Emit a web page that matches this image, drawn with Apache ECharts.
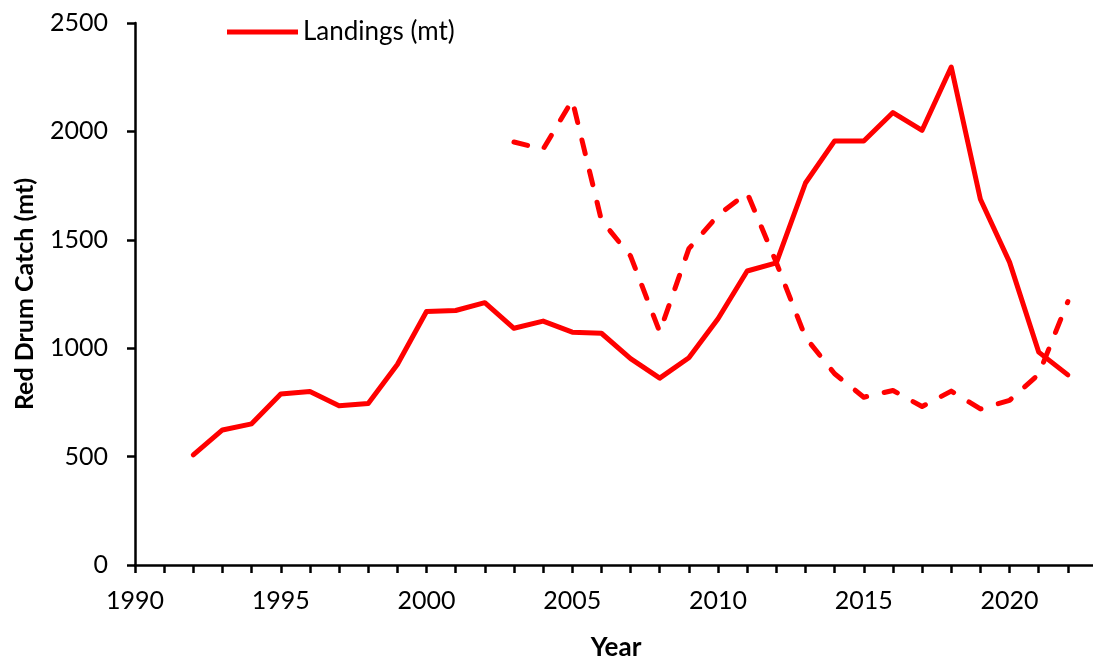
<!DOCTYPE html>
<html><head><meta charset="utf-8">
<script src="https://cdn.jsdelivr.net/npm/echarts@6/dist/echarts.min.js"></script>
<style>html,body{margin:0;padding:0;background:#fff}#c{width:1093px;height:657px}</style>
</head><body><div id="c"></div>
<script>
const landingYears = [1992,1993,1994,1995,1996,1997,1998,1999,2000,2001,2002,2003,2004,2005,2006,2007,2008,2009,2010,2011,2012,2013,2014,2015,2016,2017,2018,2019,2020,2021,2022];
const landings = [508,623,651,789,800,735,745,925,1169,1174,1210,1092,1125,1074,1069,952,862,956,1136,1356,1394,1762,1956,1956,2087,2005,2297,1687,1397,982,877];
const dashedYears = [2003,2004,2005,2006,2007,2008,2009,2010,2011,2012,2013,2014,2015,2016,2017,2018,2019,2020,2021,2022];
const dashedValues = [1951,1918,2144,1590,1425,1075,1459,1613,1716,1395,1050,882,774,805,731,802,720,759,880,1215];

const font = 'Lato, "Open Sans", sans-serif';
const chart = echarts.init(document.getElementById('c'), null, {renderer:'canvas'});
chart.setOption({
  animation: false,
  backgroundColor: '#fff',
  grid: {left: 135, top: 23, right: -4, bottom: 92, containLabel: false, outerBoundsMode: 'none'},
  legend: {
    show: true, left: 222, top: 14,
    data: [{name: 'Landings (mt)', icon: 'rect'}],
    itemWidth: 71, itemHeight: 5, itemGap: 5,
    textStyle: {fontFamily: font, fontSize: 26, color: '#000'}
  },
  xAxis: {
    type: 'value', min: 1990, max: 2023, interval: 1,
    name: 'Year', nameLocation: 'middle', nameGap: 70,
    nameTextStyle: {fontFamily: font, fontSize: 26, fontWeight: 'bold', color: '#000'},
    axisLine: {show: true, onZero: false, lineStyle: {color: '#000', width: 2.5}},
    axisTick: {show: true, inside: false, length: 8, lineStyle: {color: '#000', width: 2.5}},
    axisLabel: {
      fontFamily: font, fontSize: 25, color: '#000', margin: 23,
      formatter: v => (v % 5 === 0 ? String(v) : '')
    },
    splitLine: {show: false}
  },
  yAxis: {
    type: 'value', min: 0, max: 2500, interval: 500,
    name: 'Red Drum Catch (mt)', nameLocation: 'middle', nameGap: 98, nameRotate: 90,
    nameTextStyle: {fontFamily: font, fontSize: 25, fontWeight: 'bold', color: '#000'},
    axisLine: {show: true, lineStyle: {color: '#000', width: 2.5}},
    axisTick: {show: true, inside: false, length: 8, lineStyle: {color: '#000', width: 2.5}},
    axisLabel: {fontFamily: font, fontSize: 25, color: '#000', margin: 27, formatter: v => String(v)},
    splitLine: {show: false}
  },
  series: [
    {
      name: 'Landings (mt)', type: 'line', symbol: 'none',
      data: landingYears.map((y,i) => [y, landings[i]]),
      lineStyle: {color: '#ff0000', width: 5, cap: 'round', join: 'round'},
      itemStyle: {color: '#ff0000'}, z: 3
    },
    {
      name: 'Index', type: 'line', symbol: 'none',
      data: dashedYears.map((y,i) => [y, dashedValues[i]]),
      lineStyle: {color: '#ff0000', width: 5, type: [14, 18], cap: 'round', join: 'round'},
      itemStyle: {color: '#ff0000'}, z: 2
    }
  ]
});
</script></body></html>
